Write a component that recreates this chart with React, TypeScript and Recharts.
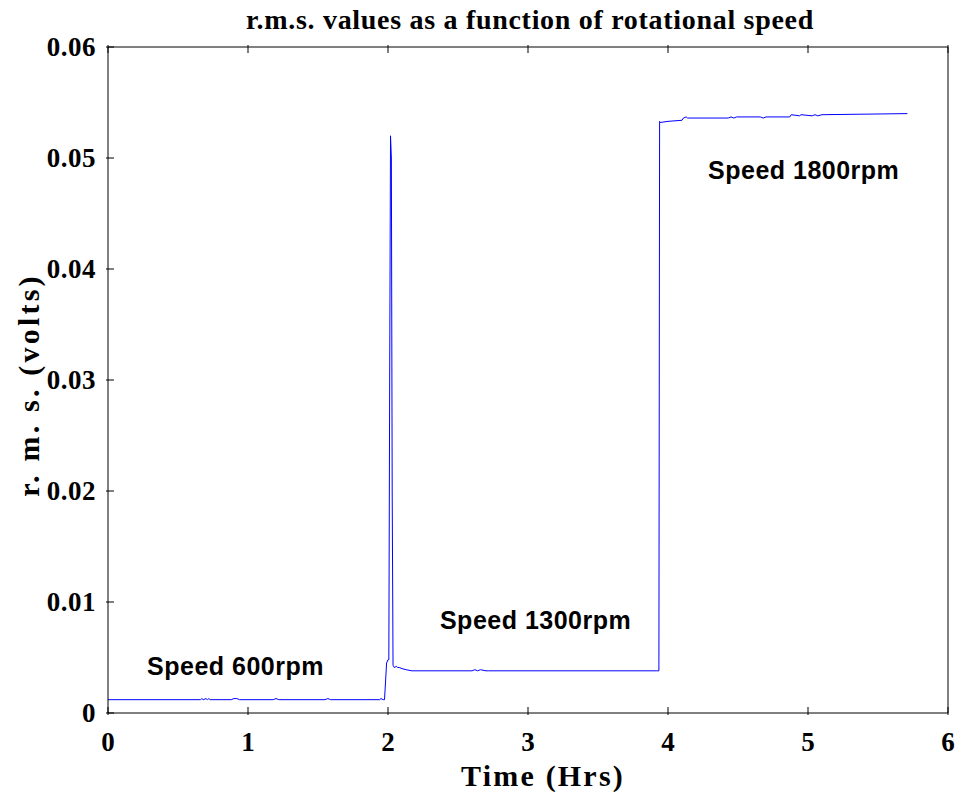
import React from "react";
import { LineChart, Line, XAxis, YAxis, ReferenceDot } from "recharts";

const timeHrs = [
  0, 0.66, 0.67, 0.68, 0.7, 0.71, 0.72, 0.73, 0.88, 0.9, 0.92, 0.94, 1.18, 1.2, 1.22, 1.55, 1.57, 1.59,
  1.94, 1.95, 1.965, 1.975, 1.99, 2.0, 2.006, 2.012, 2.018, 2.024, 2.03, 2.036, 2.045, 2.06, 2.07, 2.08,
  2.1, 2.13, 2.17, 2.3, 2.6, 2.62, 2.64, 2.66, 2.7, 2.72, 3.0, 3.5, 3.92, 3.935, 3.94, 3.945, 4.0,
  4.1, 4.11, 4.13, 4.14, 4.43, 4.45, 4.47, 4.49, 4.66, 4.68, 4.7, 4.87, 4.88, 4.94, 4.95, 5.03, 5.05,
  5.07, 5.1, 5.71,
];
const rmsVolts = [
  0.0012, 0.0012, 0.0013, 0.0012, 0.0013, 0.0012, 0.0013, 0.0012, 0.0012, 0.0013, 0.0013, 0.0012,
  0.0012, 0.0013, 0.0012, 0.0012, 0.0013, 0.0012, 0.0012, 0.0013, 0.0012, 0.0012, 0.0045, 0.0048,
  0.0048, 0.03, 0.052, 0.05, 0.02, 0.0043, 0.0041, 0.0042, 0.0041, 0.0041, 0.004, 0.0039, 0.0038,
  0.0038, 0.0038, 0.0039, 0.0038, 0.0039, 0.0038, 0.0038, 0.0038, 0.0038, 0.0038, 0.0038, 0.0533,
  0.0532, 0.0533, 0.0534, 0.0536, 0.0537, 0.0536, 0.0536, 0.0537, 0.0536, 0.0537, 0.0537, 0.0536,
  0.0537, 0.0537, 0.0539, 0.0538, 0.0539, 0.0538, 0.0539, 0.0538, 0.0539, 0.054,
];

const xTicks = [0, 1, 2, 3, 4, 5, 6];
const yTicks = [0, 0.01, 0.02, 0.03, 0.04, 0.05, 0.06];

const annotations = [
  { x: 0.279, y: 0.0043, text: "Speed 600rpm" },
  { x: 2.371, y: 0.0085, text: "Speed 1300rpm" },
  { x: 4.286, y: 0.049, text: "Speed 1800rpm" },
];

const data = timeHrs.map((t, i) => ({ t, v: rmsVolts[i] }));

const serif = "'Liberation Serif', 'Times New Roman', serif";
const sans = "'Liberation Sans', Arial, sans-serif";
const TICK = 8;

const BottomTick = (props: any) => {
  const { x, y, payload } = props;
  return (
    <g>
      <line x1={x} x2={x} y1={y} y2={y - TICK} stroke="#000" strokeWidth={1} />
      <text x={x} y={y + 36} textAnchor="middle" fontFamily={serif} fontWeight="bold" fontSize={27} fill="#000">
        {payload.value}
      </text>
    </g>
  );
};
const TopTick = (props: any) => {
  const { x, y } = props;
  return <line x1={x} x2={x} y1={y} y2={y + TICK} stroke="#000" strokeWidth={1} />;
};
const LeftTick = (props: any) => {
  const { x, y, payload } = props;
  const label = payload.value === 0 ? "0" : payload.value.toFixed(2);
  return (
    <g>
      <line x1={x} x2={x + TICK} y1={y} y2={y} stroke="#000" strokeWidth={1} />
      <text
        x={x - 10}
        y={y + 9}
        textAnchor="end"
        fontFamily={serif}
        fontWeight="bold"
        fontSize={27}
        letterSpacing={0.5}
        fill="#000"
      >
        {label}
      </text>
    </g>
  );
};
const RightTick = (props: any) => {
  const { x, y } = props;
  return <line x1={x} x2={x - TICK} y1={y} y2={y} stroke="#000" strokeWidth={1} />;
};

export default function App() {
  return (
    <div style={{ position: "absolute", left: 0, top: 0, width: 963, height: 794, background: "#fff" }}>
      <LineChart width={963} height={794} data={data} margin={{ top: 17, right: 5, bottom: 41, left: 8 }}>
        <text
          x={530}
          y={29}
          textAnchor="middle"
          fontFamily={serif}
          fontWeight="bold"
          fontSize={28}
          letterSpacing={0.7}
          fill="#000"
        >
          r.m.s. values as a function of rotational speed
        </text>
        <text
          x={543}
          y={786}
          textAnchor="middle"
          fontFamily={serif}
          fontWeight="bold"
          fontSize={30}
          letterSpacing={2.2}
          fill="#000"
        >
          Time (Hrs)
        </text>
        <text
          x={0}
          y={0}
          transform="translate(39,385) rotate(-90)"
          textAnchor="middle"
          fontFamily={serif}
          fontWeight="bold"
          fontSize={30}
          letterSpacing={3.2}
          fill="#000"
        >
          r. m. s. (volts)
        </text>
        <XAxis
          xAxisId="b"
          dataKey="t"
          type="number"
          domain={[0, 6]}
          ticks={xTicks}
          height={40}
          tickSize={0}
          tick={<BottomTick />}
          axisLine={{ stroke: "#000" }}
          tickLine={false}
          allowDataOverflow
        />
        <XAxis
          xAxisId="t"
          orientation="top"
          dataKey="t"
          type="number"
          domain={[0, 6]}
          ticks={xTicks}
          height={30}
          tickSize={0}
          tick={<TopTick />}
          axisLine={{ stroke: "#000" }}
          tickLine={false}
        />
        <YAxis
          yAxisId="l"
          type="number"
          domain={[0, 0.06]}
          ticks={yTicks}
          width={100}
          tickSize={0}
          tick={<LeftTick />}
          axisLine={{ stroke: "#000" }}
          tickLine={false}
          allowDataOverflow
        />
        <YAxis
          yAxisId="r"
          orientation="right"
          type="number"
          domain={[0, 0.06]}
          ticks={yTicks}
          width={10}
          tickSize={0}
          tick={<RightTick />}
          axisLine={{ stroke: "#000" }}
          tickLine={false}
        />
        <Line
          xAxisId="b"
          yAxisId="l"
          type="linear"
          dataKey="v"
          stroke="#0000ff"
          strokeWidth={1}
          dot={false}
          isAnimationActive={false}
        />
        {annotations.map((a) => (
          <ReferenceDot
            key={a.text}
            xAxisId="b"
            yAxisId="l"
            x={a.x}
            y={a.y}
            r={0}
            shape={(p: any) => (
              <text
                x={p.cx}
                y={p.cy + 10}
                fontFamily={sans}
                fontWeight="bold"
                fontSize={25}
                letterSpacing={0.5}
                fill="#000"
              >
                {a.text}
              </text>
            )}
          />
        ))}
      </LineChart>
    </div>
  );
}
